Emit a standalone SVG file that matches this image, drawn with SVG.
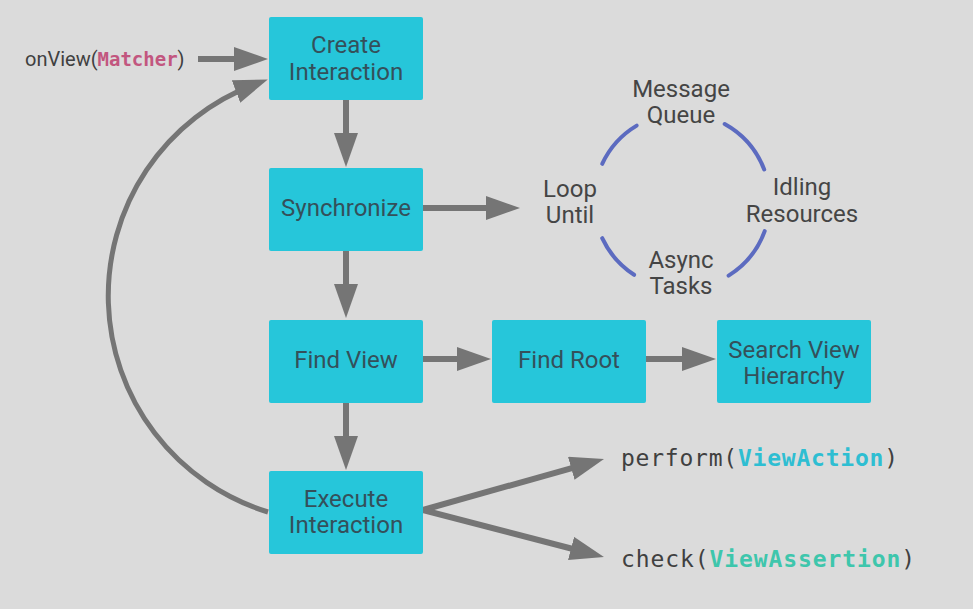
<svg xmlns="http://www.w3.org/2000/svg" width="973" height="609" viewBox="0 0 973 609">
<style>
.bg{fill:#DBDBDB}
.box{fill:#26C6DA}
.bt{font-family:Roboto,"Liberation Sans",sans-serif;font-size:24px;fill:#34505A;text-anchor:middle}
.lt{font-family:Roboto,"Liberation Sans",sans-serif;font-size:24px;fill:#454545;text-anchor:middle}
.conn{fill:none;stroke:#757575;stroke-width:6}
.loop{fill:none;stroke:#5C6BC0;stroke-width:4;stroke-linecap:round}
.code{font-family:"DejaVu Sans Mono","Liberation Mono",monospace;font-size:23px;fill:#404040}
.sans{font-family:Roboto,"Liberation Sans",sans-serif;font-size:20px;fill:#404040}
</style>
<defs>
<marker id="ah" markerUnits="userSpaceOnUse" markerWidth="36" markerHeight="26" refX="20" refY="12" orient="auto">
<path d="M0,0 L34,12 L0,24 Z" fill="#757575"/>
</marker>
</defs>
<rect class="bg" x="0" y="0" width="973" height="609"/>

<g id="connectors">
<path class="conn" d="M198,59 H254" marker-end="url(#ah)"/>
<path class="conn" d="M346,100 V153" marker-end="url(#ah)"/>
<path class="conn" d="M423,208 H506" marker-end="url(#ah)"/>
<path class="conn" d="M346,251 V304" marker-end="url(#ah)"/>
<path class="conn" d="M346,403 V456" marker-end="url(#ah)"/>
<path class="conn" d="M423,359 H477" marker-end="url(#ah)"/>
<path class="conn" d="M646,359 H702" marker-end="url(#ah)"/>
<path class="conn" d="M423,510 L590.5,462.8" marker-end="url(#ah)"/>
<path class="conn" d="M423,510 L590.4,553.5" marker-end="url(#ah)"/>
<path class="conn" style="stroke-width:5" d="M268,512 A226,226 0 0 1 254.7,84.4" marker-end="url(#ah)"/>
</g>

<g id="loop">
<path class="loop" d="M602.2,163.8 A88,88 0 0 1 636.7,125.6"/>
<path class="loop" d="M724.7,124 A88,88 0 0 1 764.2,169.5"/>
<path class="loop" d="M764.7,231.1 A88,88 0 0 1 728.6,275.6"/>
<path class="loop" d="M634.1,274.8 A88,88 0 0 1 602.2,238.2"/>
<text class="lt" x="681" y="97">Message</text>
<text class="lt" x="681" y="123">Queue</text>
<text class="lt" x="570" y="197">Loop</text>
<text class="lt" x="570" y="223">Until</text>
<text class="lt" x="802" y="195">Idling</text>
<text class="lt" x="802" y="222">Resources</text>
<text class="lt" x="681" y="268">Async</text>
<text class="lt" x="681" y="294">Tasks</text>
</g>

<g id="onview">
<text class="sans" x="25" y="66">onView(<tspan class="code" style="font-size:19px;font-weight:bold;fill:#C2567F">Matcher</tspan>)</text>
</g>

<g id="create">
<rect class="box" x="269" y="17" width="154" height="83" rx="2"/>
<text class="bt" x="346" y="53">Create</text>
<text class="bt" x="346" y="80">Interaction</text>
</g>
<g id="synchronize">
<rect class="box" x="269" y="168" width="154" height="83" rx="2"/>
<text class="bt" x="346" y="216">Synchronize</text>
</g>
<g id="findview">
<rect class="box" x="269" y="320" width="154" height="83" rx="2"/>
<text class="bt" x="346" y="368">Find View</text>
</g>
<g id="findroot">
<rect class="box" x="492" y="320" width="154" height="83" rx="2"/>
<text class="bt" x="569" y="368">Find Root</text>
</g>
<g id="search">
<rect class="box" x="717" y="320" width="154" height="83" rx="2"/>
<text class="bt" x="794" y="358">Search View</text>
<text class="bt" x="794" y="384">Hierarchy</text>
</g>
<g id="execute">
<rect class="box" x="269" y="471" width="154" height="83" rx="2"/>
<text class="bt" x="346" y="507">Execute</text>
<text class="bt" x="346" y="533">Interaction</text>
</g>

<g id="perform">
<text class="code" x="621" y="466" textLength="277" lengthAdjust="spacing">perform(<tspan style="font-weight:bold;fill:#2EBED2">ViewAction</tspan>)</text>
</g>
<g id="check">
<text class="code" x="621" y="567" textLength="294" lengthAdjust="spacing">check(<tspan style="font-weight:bold;fill:#3EC6AC">ViewAssertion</tspan>)</text>
</g>
</svg>
